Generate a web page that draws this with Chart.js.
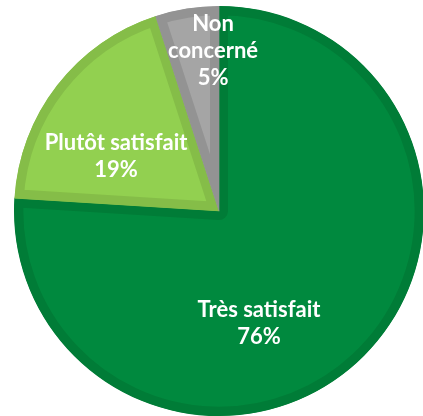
<!DOCTYPE html>
<html>
<head>
<meta charset="utf-8">
<script src="https://cdn.jsdelivr.net/npm/chart.js@4/dist/chart.umd.min.js"></script>
<style>
    html, body { margin: 0; padding: 0; background: #fff; overflow: hidden; }
    #wrap { position: relative; width: 438px; height: 422px; }
</style>
</head>
<body>
<div id="wrap"><canvas id="chart"></canvas></div>
<script>
const categories = ["Très satisfait", "Plutôt satisfait", "Non concerné"];
const labelLines = [["Très satisfait", "76%"], ["Plutôt satisfait", "19%"], ["Non", "concerné", "5%"]];
const values = [76, 19, 5];

const fillColors = ["#00893e", "#92d050", "#a5a5a5"];
const edgeColors = ["#007c37", "#85bd48", "#939393"];

// label block centre, in units of the pie radius from its centre
const labelSpots = [[0.195, 0.546], [-0.502, -0.268], [-0.029, -0.78]];

const sliceLabels = {
    id: "sliceLabels",
    afterDatasetsDraw(chart) {
        const ctx = chart.ctx;
        const arcs = chart.getDatasetMeta(0).data;
        ctx.save();
        ctx.fillStyle = "#ffffff";
        ctx.font = "bold 22px Lato";
        ctx.textAlign = "center";
        ctx.textBaseline = "middle";
        const lineH = 27;
        arcs.forEach((arc, i) => {
            const r = arc.outerRadius;
            const cx = arc.x + labelSpots[i][0] * r;
            const cy = arc.y + labelSpots[i][1] * r;
            const lines = labelLines[i];
            const top = cy - (lines.length - 1) * lineH / 2;
            lines.forEach((t, j) => ctx.fillText(t, cx, top + j * lineH));
        });
        ctx.restore();
    }
};

let chart;

function initChart() {
    const ctx = document.getElementById("chart");

    chart = new Chart(ctx, {
        type: "pie",
        data: {
            labels: categories,
            datasets: [
                {
                    data: values,
                    backgroundColor: fillColors,
                    borderColor: edgeColors,
                    borderWidth: 9,
                    borderAlign: "inner"
                }
            ]
        },
        options: {
            responsive: true,
            maintainAspectRatio: false,
            animation: false,
            layout: { padding: { top: 6, bottom: 6, left: 0, right: 0 } },
            plugins: {
                legend: { display: false },
                tooltip: { enabled: false }
            }
        },
        plugins: [sliceLabels]
    });
}

initChart();
</script>
</body>
</html>
